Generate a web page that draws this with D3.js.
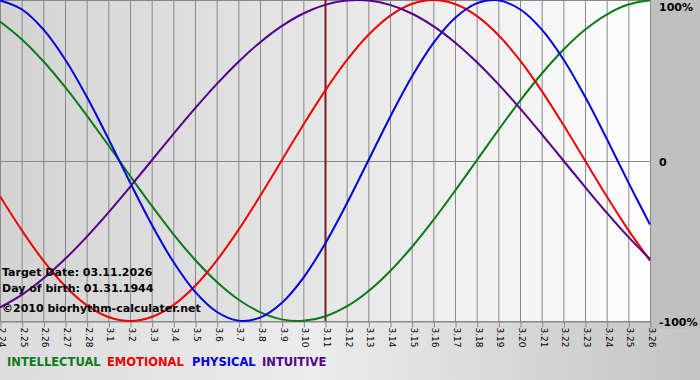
<!DOCTYPE html>
<html>
<head>
<meta charset="utf-8">
<script src="https://cdn.jsdelivr.net/npm/d3@7"></script>
<style>
html,body{margin:0;padding:0;background:#fff;}
svg{display:block;}
</style>
</head>
<body>
<svg id="chart" width="700" height="380"></svg>
<script>
// Day labels (month.day)
const days = ["2.24","2.25","2.26","2.27","2.28","3.1","3.2","3.3","3.4","3.5","3.6","3.7","3.8","3.9","3.10","3.11","3.12","3.13","3.14","3.15","3.16","3.17","3.18","3.19","3.20","3.21","3.22","3.23","3.24","3.25","3.26"];
const targetDay = "3.11";

// Series values (-1 .. 1), one per day
const intellectual = [0.8660,0.7557,0.6182,0.4582,0.2817,0.0951,-0.0951,-0.2817,-0.4582,-0.6182,-0.7557,-0.8660,-0.9450,-0.9898,-0.9989,-0.9718,-0.9096,-0.8146,-0.6901,-0.5406,-0.3717,-0.1893,0,0.1893,0.3717,0.5406,0.6901,0.8146,0.9096,0.9718,0.9989];
const emotional = [-0.2225,-0.4339,-0.6235,-0.7818,-0.9010,-0.9749,-1,-0.9749,-0.9010,-0.7818,-0.6235,-0.4339,-0.2225,0,0.2225,0.4339,0.6235,0.7818,0.9010,0.9749,1,0.9749,0.9010,0.7818,0.6235,0.4339,0.2225,0,-0.2225,-0.4339,-0.6235];
const physical = [0.9977,0.9423,0.8170,0.6311,0.3984,0.1362,-0.1362,-0.3984,-0.6311,-0.8170,-0.9423,-0.9977,-0.9791,-0.8879,-0.7308,-0.5196,-0.2698,0,0.2698,0.5196,0.7308,0.8879,0.9791,0.9977,0.9423,0.8170,0.6311,0.3984,0.1362,-0.1362,-0.3984];
const intuitive = [-0.9158,-0.8372,-0.7357,-0.6142,-0.4759,-0.3247,-0.1646,0,0.1646,0.3247,0.4759,0.6142,0.7357,0.8372,0.9158,0.9694,0.9966,0.9966,0.9694,0.9158,0.8372,0.7357,0.6142,0.4759,0.3247,0.1646,0,-0.1646,-0.3247,-0.4759,-0.6142];

const seriesNames = ["INTELLECTUAL","EMOTIONAL","PHYSICAL","INTUITIVE"];
const seriesColors = ["#0a7a1a","#ee0000","#0000dd","#55008a"];
const yTickValues = [1, 0, -1];
const yTickLabels = ["100%", "0", "-100%"];
const infoLines = ["Target Date: 03.11.2026", "Day of birth: 01.31.1944", "\u00a92010 biorhythm-calculater.net"];

const svg = d3.select("#chart");
const W = 700, H = 380;
const plotL = 0, plotR = 650, plotT = 0, plotB = 321;

const defs = svg.append("defs");
const g1 = defs.append("linearGradient").attr("id","plotBg").attr("x1","0").attr("x2","1").attr("y1","0").attr("y2","0");
g1.append("stop").attr("offset","0").attr("stop-color","#d3d3d3");
g1.append("stop").attr("offset","0.5").attr("stop-color","#e6e6e6");
g1.append("stop").attr("offset","1").attr("stop-color","#fefefe");
const g2 = defs.append("linearGradient").attr("id","botBg").attr("x1","0").attr("x2","1").attr("y1","0").attr("y2","0");
g2.append("stop").attr("offset","0").attr("stop-color","#dcdcdc");
g2.append("stop").attr("offset","0.45").attr("stop-color","#ececec");
g2.append("stop").attr("offset","1").attr("stop-color","#c4c4c4");

// backgrounds
svg.append("rect").attr("x",0).attr("y",0).attr("width",W).attr("height",H).attr("fill","url(#botBg)");
svg.append("rect").attr("x",plotR).attr("y",0).attr("width",W-plotR).attr("height",plotB+8).attr("fill","#c0c0c0");
svg.append("rect").attr("x",plotL).attr("y",plotT).attr("width",plotR-plotL).attr("height",plotB-plotT).attr("fill","url(#plotBg)");

const x = d3.scalePoint().domain(days).range([plotL, plotR]);
const y = d3.scaleLinear().domain([-1, 1]).range([plotB, plotT]);

// vertical gridlines
svg.append("g").selectAll("line").data(days).join("line")
  .attr("x1", d => x(d) + 0.5).attr("x2", d => x(d) + 0.5)
  .attr("y1", plotT).attr("y2", plotB)
  .attr("stroke", "#888").attr("stroke-width", 1);

// horizontal gridlines
svg.append("g").selectAll("line").data(yTickValues).join("line")
  .attr("x1", plotL).attr("x2", plotR + 1)
  .attr("y1", d => Math.round(y(d)) + 0.5).attr("y2", d => Math.round(y(d)) + 0.5)
  .attr("stroke", "#888").attr("stroke-width", 1);

// bottom axis with rotated labels
const xAxis = d3.axisBottom(x).tickSize(6).tickSizeOuter(0);
const ax = svg.append("g").attr("transform", `translate(0.5,${plotB + 0.5})`).call(xAxis);
ax.select(".domain").attr("stroke", "#888");
ax.selectAll(".tick line").attr("stroke", "#888");
ax.selectAll(".tick text")
  .attr("transform", "rotate(90)")
  .attr("x", 6).attr("y", -1)
  .attr("dy", "0.35em")
  .attr("text-anchor", "start")
  .attr("font-family", "Tahoma, 'DejaVu Sans', sans-serif")
  .attr("font-size", 9)
  .attr("fill", "#000");

// right labels
const yLabelBase = [11, 166, 326];
svg.append("g").selectAll("text").data(yTickValues).join("text")
  .attr("x", 659)
  .attr("y", (d,i) => yLabelBase[i])
  .attr("font-family", "'DejaVu Sans', Verdana, sans-serif")
  .attr("font-weight", "bold")
  .attr("font-size", 11)
  .attr("fill", "#000")
  .text((d,i) => yTickLabels[i]);

// target line
svg.append("line")
  .attr("x1", x(targetDay) + 0.5).attr("x2", x(targetDay) + 0.5)
  .attr("y1", plotT).attr("y2", plotB)
  .attr("stroke", "#7a1a1a").attr("stroke-width", 2);

// curves
const allSeries = [intellectual, emotional, physical, intuitive];
const line = d3.line().x((d,i) => x(days[i])).y(d => y(d)).curve(d3.curveCatmullRom.alpha(0.5));
const clip = defs.append("clipPath").attr("id","plotClip");
clip.append("rect").attr("x",plotL).attr("y",plotT - 2).attr("width",plotR - plotL + 1).attr("height",plotB - plotT + 3);
const cg = svg.append("g").attr("clip-path","url(#plotClip)");
allSeries.forEach((s, i) => {
  cg.append("path").datum(s).attr("d", line)
    .attr("fill", "none").attr("stroke", seriesColors[i]).attr("stroke-width", 2);
});

// info text
svg.append("g").selectAll("text").data(infoLines).join("text")
  .attr("x", 2)
  .attr("y", (d,i) => [276, 292, 312][i])
  .attr("font-family", "Tahoma, 'DejaVu Sans', sans-serif")
  .attr("font-weight", "bold")
  .attr("font-size", 11)
  .attr("fill", "#000")
  .text(d => d);

// legend
const legendX = [7, 107, 192, 262];
svg.append("g").selectAll("text").data(seriesNames).join("text")
  .attr("x", (d,i) => legendX[i])
  .attr("y", 366)
  .attr("font-family", "Tahoma, 'DejaVu Sans', sans-serif")
  .attr("font-weight", "bold")
  .attr("font-size", 11.5)
  .attr("fill", (d,i) => seriesColors[i])
  .text(d => d);
</script>
</body>
</html>
